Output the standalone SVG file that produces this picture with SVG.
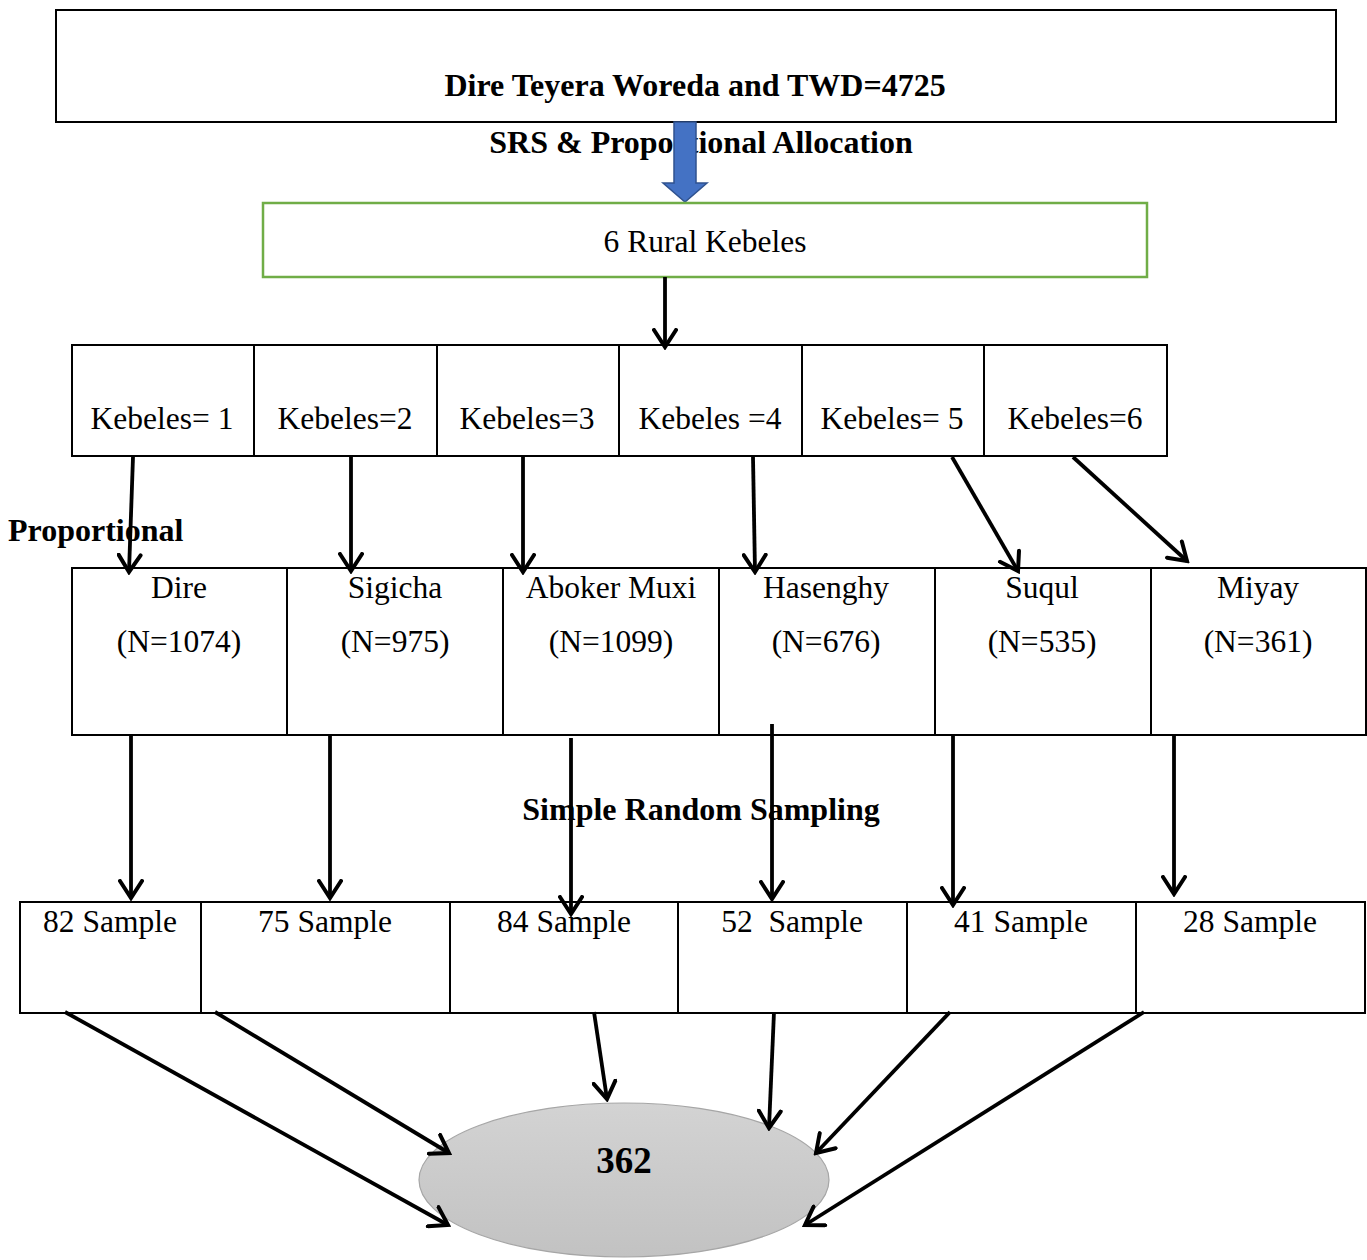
<svg xmlns="http://www.w3.org/2000/svg" width="1367" height="1260" viewBox="0 0 1367 1260">
<defs>
<style>
.box{fill:#fff;stroke:#000;stroke-width:2}
.t{font-family:"Liberation Serif","Times New Roman",serif;font-size:31.5px;fill:#000;text-anchor:middle}
.b{font-family:"Liberation Serif","Times New Roman",serif;font-size:32px;font-weight:bold;fill:#000}
.c{stroke:#000;stroke-width:3.8;fill:none;marker-end:url(#ah)}
</style>
<marker id="ah" viewBox="0 0 22 26" refX="19" refY="13" markerWidth="22" markerHeight="26" markerUnits="userSpaceOnUse" orient="auto">
<path d="M2,2 L19,13 L2,24" fill="none" stroke="#000" stroke-width="4" stroke-linecap="round" stroke-linejoin="miter"/>
</marker>
<linearGradient id="g" x1="0" y1="0" x2="0" y2="1">
<stop offset="0" stop-color="#d3d3d3"/>
<stop offset="1" stop-color="#c2c2c2"/>
</linearGradient>
</defs>

<g id="top">
<rect class="box" x="56" y="10" width="1280" height="112"/>
<text class="b" x="695" y="96" text-anchor="middle">Dire Teyera Woreda and TWD=4725</text>
</g>

<text class="b" x="701" y="153" text-anchor="middle">SRS &amp; Proportional Allocation</text>

<g id="blue-arrow">
<path d="M674,122 L696,122 L696,183 L707,183 L685,202 L663,183 L674,183 Z" fill="#4472C4" stroke="#2F528F" stroke-width="1.5"/>
</g>

<g id="rural">
<rect x="263" y="203" width="884" height="74" fill="#fff" stroke="#70AD47" stroke-width="2.5"/>
<text class="t" x="705" y="252">6 Rural Kebeles</text>
</g>

<g id="kebeles">
<g id="k1"><rect class="box" x="72" y="345" width="182" height="111"/><text class="t" x="162" y="429">Kebeles= 1</text></g>
<g id="k2"><rect class="box" x="254" y="345" width="183" height="111"/><text class="t" x="345" y="429">Kebeles=2</text></g>
<g id="k3"><rect class="box" x="437" y="345" width="182" height="111"/><text class="t" x="527" y="429">Kebeles=3</text></g>
<g id="k4"><rect class="box" x="619" y="345" width="183" height="111"/><text class="t" x="710" y="429">Kebeles =4</text></g>
<g id="k5"><rect class="box" x="802" y="345" width="182" height="111"/><text class="t" x="892" y="429">Kebeles= 5</text></g>
<g id="k6"><rect class="box" x="984" y="345" width="183" height="111"/><text class="t" x="1075" y="429">Kebeles=6</text></g>
</g>

<text class="b" x="8" y="541">Proportional</text>

<g id="pops">
<g id="p1"><rect class="box" x="72" y="568" width="215" height="167"/><text class="t" x="179" y="598">Dire</text><text class="t" x="179" y="652">(N=1074)</text></g>
<g id="p2"><rect class="box" x="287" y="568" width="216" height="167"/><text class="t" x="395" y="598">Sigicha</text><text class="t" x="395" y="652">(N=975)</text></g>
<g id="p3"><rect class="box" x="503" y="568" width="216" height="167"/><text class="t" x="611" y="598">Aboker Muxi</text><text class="t" x="611" y="652">(N=1099)</text></g>
<g id="p4"><rect class="box" x="719" y="568" width="216" height="167"/><text class="t" x="826" y="598">Hasenghy</text><text class="t" x="826" y="652">(N=676)</text></g>
<g id="p5"><rect class="box" x="935" y="568" width="216" height="167"/><text class="t" x="1042" y="598">Suqul</text><text class="t" x="1042" y="652">(N=535)</text></g>
<g id="p6"><rect class="box" x="1151" y="568" width="215" height="167"/><text class="t" x="1258" y="598">Miyay</text><text class="t" x="1258" y="652">(N=361)</text></g>
</g>

<text class="b" x="701" y="820" text-anchor="middle">Simple Random Sampling</text>

<g id="samples">
<g id="s1"><rect class="box" x="20" y="902" width="181" height="111"/><text class="t" x="110" y="932">82 Sample</text></g>
<g id="s2"><rect class="box" x="201" y="902" width="249" height="111"/><text class="t" x="325" y="932">75 Sample</text></g>
<g id="s3"><rect class="box" x="450" y="902" width="228" height="111"/><text class="t" x="564" y="932">84 Sample</text></g>
<g id="s4"><rect class="box" x="678" y="902" width="229" height="111"/><text class="t" x="792" y="932" xml:space="preserve">52  Sample</text></g>
<g id="s5"><rect class="box" x="907" y="902" width="229" height="111"/><text class="t" x="1021" y="932">41 Sample</text></g>
<g id="s6"><rect class="box" x="1136" y="902" width="229" height="111"/><text class="t" x="1250" y="932">28 Sample</text></g>
</g>

<g id="total">
<ellipse cx="624" cy="1180" rx="205" ry="77" fill="url(#g)" stroke="#a6a6a6" stroke-width="1.2"/>
<text class="b" x="624" y="1173" text-anchor="middle" style="font-size:37px">362</text>
</g>

<g id="connectors">
<line class="c" x1="665" y1="277" x2="665" y2="347"/>
<line class="c" x1="133" y1="457" x2="129" y2="572"/>
<line class="c" x1="351" y1="457" x2="351" y2="571"/>
<line class="c" x1="523" y1="457" x2="523" y2="572"/>
<line class="c" x1="753" y1="457" x2="755" y2="572"/>
<line class="c" x1="952" y1="457" x2="1018" y2="571"/>
<line class="c" x1="1073" y1="457" x2="1187" y2="561"/>
<line class="c" x1="131" y1="735" x2="131" y2="898"/>
<line class="c" x1="330" y1="735" x2="330" y2="898"/>
<line class="c" x1="571" y1="738" x2="571" y2="914"/>
<line class="c" x1="772" y1="724" x2="772" y2="899"/>
<line class="c" x1="953" y1="735" x2="953" y2="905"/>
<line class="c" x1="1174" y1="735" x2="1174" y2="894"/>
<line class="c" x1="65" y1="1012" x2="448" y2="1225"/>
<line class="c" x1="215" y1="1012" x2="449" y2="1153"/>
<line class="c" x1="594" y1="1012" x2="607" y2="1099"/>
<line class="c" x1="774" y1="1012" x2="769" y2="1128"/>
<line class="c" x1="950" y1="1012" x2="816" y2="1153"/>
<line class="c" x1="1144" y1="1012" x2="805" y2="1225"/>
</g>
</svg>
